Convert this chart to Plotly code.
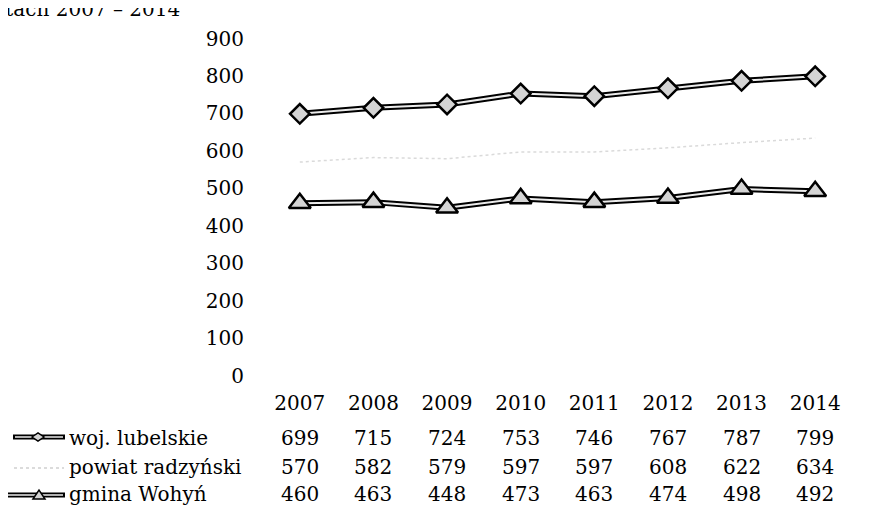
import plotly.graph_objects as go

years = ["2007", "2008", "2009", "2010", "2011", "2012", "2013", "2014"]
woj_lubelskie = [699, 715, 724, 753, 746, 767, 787, 799]
powiat_radzynski = [570, 582, 579, 597, 597, 608, 622, 634]
gmina_wohyn = [460, 463, 448, 473, 463, 474, 498, 492]
series_names = ["woj. lubelskie", "powiat radzyński", "gmina Wohyń"]
y_ticks = [0, 100, 200, 300, 400, 500, 600, 700, 800, 900]
title_text = "latach 2007 – 2014"

W, H = 873, 532
OFF = 8  # page body margin
FONT = "DejaVu Serif"
FS = 20


def px_x(p):
    return (p - OFF) / W


def px_y(p):
    return 1 - (p - OFF) / H


xs = list(range(len(years)))
fig = go.Figure()

# powiat radzyński - very faint in the scan
fig.add_trace(go.Scatter(x=xs, y=powiat_radzynski, mode="lines",
                         line=dict(color="#dadada", width=1.5, dash="dot"),
                         showlegend=False, hoverinfo="skip"))

for vals, sym, sz in [(woj_lubelskie, "diamond", 15), (gmina_wohyn, "triangle-up", 19)]:
    fig.add_trace(go.Scatter(x=xs, y=vals, mode="lines",
                             line=dict(color="black", width=6),
                             showlegend=False, hoverinfo="skip"))
    fig.add_trace(go.Scatter(x=xs, y=vals, mode="lines+markers",
                             line=dict(color="#ececec", width=2),
                             marker=dict(symbol=sym, size=sz, color="#d4d4d4",
                                         line=dict(color="black", width=2.5)),
                             showlegend=False))

fig.update_layout(
    template="none",
    width=W, height=H,
    margin=dict(l=0, r=0, t=0, b=0, autoexpand=False),
    paper_bgcolor="white", plot_bgcolor="white",
    font=dict(family=FONT, size=FS, color="black"),
    showlegend=False,
    xaxis=dict(domain=[px_x(263), px_x(852)], range=[-0.5, 7.5],
               tickmode="array", tickvals=xs, ticktext=years,
               showgrid=False, zeroline=False, showline=False, ticks="",
               automargin=False, ticklabelstandoff=13,
               tickfont=dict(family=FONT, size=FS, color="black")),
    yaxis=dict(domain=[px_y(375.5), px_y(38.5)], range=[0, 900],
               tickmode="array", tickvals=y_ticks,
               showgrid=False, zeroline=False, showline=False, ticks="",
               automargin=False, anchor="free", position=px_x(244),
               tickfont=dict(family=FONT, size=FS, color="black")),
)

# data table
rows = [woj_lubelskie, powiat_radzynski, gmina_wohyn]
row_y = [438, 467, 494]
for vals, ry, name in zip(rows, row_y, series_names):
    for i, v in enumerate(vals):
        fig.add_annotation(x=i, xref="x", y=px_y(ry), yref="paper",
                           text=str(v), showarrow=False, xanchor="center",
                           yanchor="middle", font=dict(family=FONT, size=FS))
    fig.add_annotation(x=px_x(67), xref="paper", y=px_y(ry), yref="paper",
                       text=name, showarrow=False, xanchor="left",
                       yanchor="middle", font=dict(family=FONT, size=FS))


# legend keys
def key_line(y, x0):
    fig.add_shape(type="line", xref="paper", yref="paper",
                  x0=px_x(x0), x1=px_x(65), y0=px_y(y), y1=px_y(y),
                  line=dict(color="black", width=5))
    fig.add_shape(type="line", xref="paper", yref="paper",
                  x0=px_x(x0 + 2), x1=px_x(63), y0=px_y(y), y1=px_y(y),
                  line=dict(color="#ececec", width=1.5))


key_line(437, 13)
key_line(495, 3)
cx, cy = 38, 437
fig.add_shape(type="path", xref="paper", yref="paper",
              path=f"M {px_x(cx-6)} {px_y(cy)} L {px_x(cx)} {px_y(cy-4)} L {px_x(cx+6)} {px_y(cy)} L {px_x(cx)} {px_y(cy+4)} Z",
              fillcolor="#d4d4d4", line=dict(color="black", width=1.5))
cx, cy = 39, 495
fig.add_shape(type="path", xref="paper", yref="paper",
              path=f"M {px_x(cx-6)} {px_y(cy+4)} L {px_x(cx)} {px_y(cy-5)} L {px_x(cx+6)} {px_y(cy+4)} Z",
              fillcolor="#d4d4d4", line=dict(color="black", width=1.5))
fig.add_shape(type="line", xref="paper", yref="paper",
              x0=px_x(14), x1=px_x(64), y0=px_y(468), y1=px_y(468),
              line=dict(color="#cfcfcf", width=1.5, dash="dot"))

# cut-off title at the top edge
fig.add_annotation(x=px_x(182), xref="paper", y=px_y(9), yref="paper",
                   text=title_text, showarrow=False, xanchor="right",
                   yanchor="middle", font=dict(family=FONT, size=FS))

fig.write_html("out.html")
